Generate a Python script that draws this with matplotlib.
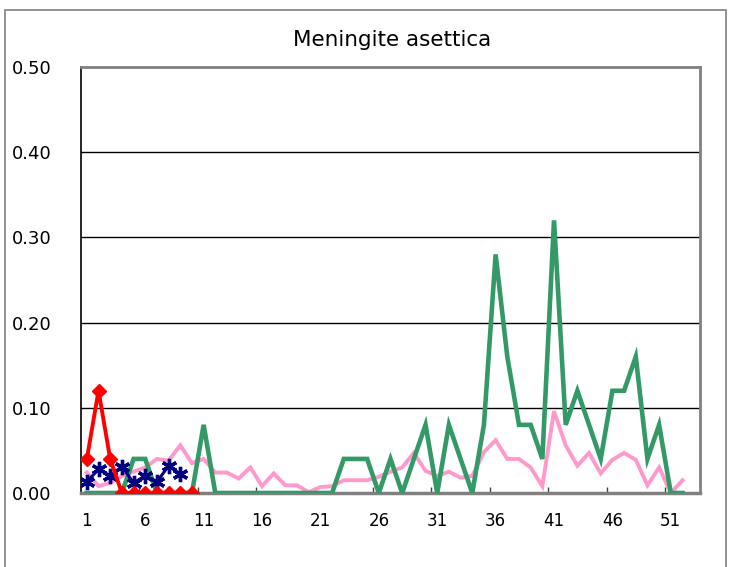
import matplotlib
matplotlib.use("Agg")
import matplotlib.pyplot as plt
from matplotlib.patches import Rectangle

title = "Meningite asettica"
weeks_all = list(range(1, 53))
y_ticks = [0.0, 0.1, 0.2, 0.3, 0.4, 0.5]
y_labels = ["0.00", "0.10", "0.20", "0.30", "0.40", "0.50"]
x_label_weeks = [1, 6, 11, 16, 21, 26, 31, 36, 41, 46, 51]

pink = [0.024, 0.008, 0.012, 0.020, 0.025, 0.030, 0.040, 0.038, 0.056, 0.035,
        0.040, 0.024, 0.024, 0.017, 0.030, 0.008, 0.023, 0.009, 0.009, 0.001,
        0.007, 0.008, 0.015, 0.015, 0.015, 0.019, 0.025, 0.030, 0.047, 0.026,
        0.020, 0.025, 0.018, 0.020, 0.048, 0.062, 0.040, 0.040, 0.030, 0.008,
        0.096, 0.056, 0.032, 0.047, 0.023, 0.039, 0.047, 0.039, 0.009, 0.030,
        0.000, 0.015]
green = [0, 0, 0, 0, 0.04, 0.04, 0, 0, 0, 0,
         0.08, 0, 0, 0, 0, 0, 0, 0, 0, 0,
         0, 0, 0.04, 0.04, 0.04, 0, 0.04, 0, 0.04, 0.08,
         0, 0.08, 0.04, 0, 0.08, 0.28, 0.16, 0.08, 0.08, 0.04,
         0.32, 0.08, 0.12, 0.08, 0.04, 0.12, 0.12, 0.16, 0.04, 0.08,
         0, 0]
blue = [0.013, 0.028, 0.020, 0.031, 0.012, 0.020, 0.013, 0.032, 0.022]
red = [0.04, 0.12, 0.04, 0, 0, 0, 0, 0, 0, 0]

fig = plt.figure(figsize=(7.33, 5.67), dpi=100)
fig.patches.append(Rectangle((5/733, -0.05), 721/733, 1.05 - 10/567,
                             transform=fig.transFigure, fill=False,
                             edgecolor="#808080", linewidth=1.2))
ax = fig.add_axes([81/733, 1 - 493/567, 619/733, 426/567])

ax.plot(weeks_all, pink, color="#FF99CC", lw=2.8, zorder=2, solid_joinstyle="miter")
ax.plot(weeks_all, green, color="#339966", lw=3.3, zorder=3, solid_joinstyle="miter")
ax.plot(weeks_all[:len(blue)], blue, color="#000080", lw=2.2, marker=(6, 2, 0),
        markersize=11, markeredgewidth=2.4, zorder=4)
ax.plot(weeks_all[:len(red)], red, color="#FF0000", lw=2.8, marker="D",
        markersize=7, zorder=5)

ax.set_xlim(0.5, 53.5)
ax.set_ylim(0, 0.5)
ax.set_yticks(y_ticks)
ax.set_yticklabels(y_labels)
ax.set_xticks(x_label_weeks)
ax.set_xticklabels([str(w) for w in x_label_weeks])
ax.set_xticks([0.5 + 5 * k for k in range(1, 11)], minor=True)
ax.tick_params(axis="x", which="major", length=0, pad=14, labelsize=12)
ax.tick_params(axis="x", which="minor", direction="in", length=4, width=1, color="#404040")
ax.tick_params(axis="y", length=0, pad=21, labelsize=13)
for yv in y_ticks[1:-1]:
    ax.axhline(yv, color="black", lw=1.0, zorder=1)

ax.spines["left"].set_color("black")
ax.spines["left"].set_linewidth(1.2)
ax.spines["top"].set_color("#808080")
ax.spines["top"].set_linewidth(2)
ax.spines["right"].set_color("#808080")
ax.spines["right"].set_linewidth(2)
ax.spines["bottom"].set_color("#808080")
ax.spines["bottom"].set_linewidth(2.5)

fig.text((282 + 503) / 2 / 733, 1 - 40 / 567, title, ha="center", va="center",
         fontsize=15.5)

fig.savefig("out.png", dpi=100)
